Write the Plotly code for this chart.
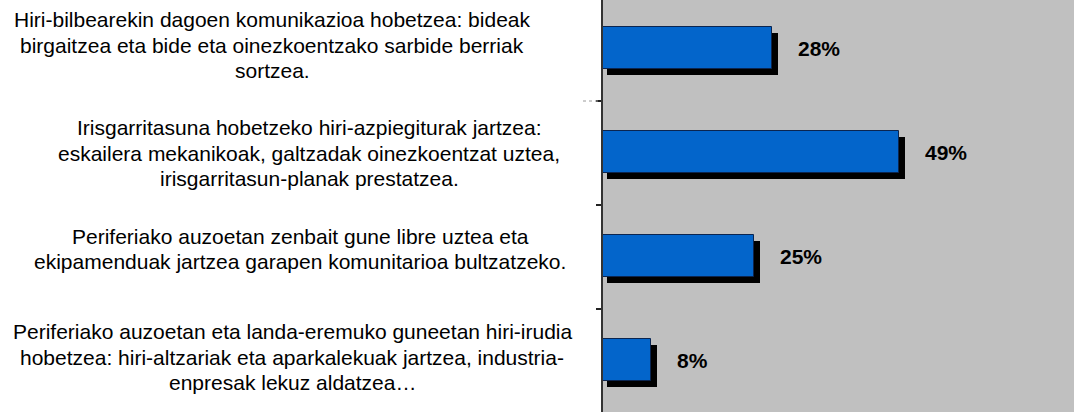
import plotly.graph_objects as go

categories = [
    ["Hiri-bilbearekin dagoen komunikazioa hobetzea: bideak",
     "birgaitzea eta bide eta oinezkoentzako sarbide berriak",
     "sortzea."],
    ["Irisgarritasuna hobetzeko hiri-azpiegiturak jartzea:",
     "eskailera mekanikoak, galtzadak oinezkoentzat uztea,",
     "irisgarritasun-planak prestatzea."],
    ["Periferiako auzoetan zenbait gune libre uztea eta",
     "ekipamenduak jartzea garapen komunitarioa bultzatzeko."],
    ["Periferiako auzoetan eta landa-eremuko guneetan hiri-irudia",
     "hobetzea: hiri-altzariak eta aparkalekuak jartzea, industria-",
     "enpresak lekuz aldatzea…"],
]
values = [28, 49, 25, 8]
value_labels = [f"{v}%" for v in values]

W, H = 1074, 412
L = 603
PW = W - L
XMAX = 78.0
px_per_unit_x = PW / XMAX
pos = list(range(len(categories)))

slot = 104.0
y_top = 3 / slot - 0.5
y_bot = (H + 3) / slot - 0.5

bar_w = 41.3 / slot
main_off = -1 / slot - bar_w / 2
sh_dx = 6 / px_per_unit_x
sh_base = 4 / px_per_unit_x
sh_dy = 6 / slot

fig = go.Figure()
fig.add_trace(go.Bar(
    y=pos, x=[v + sh_dx - sh_base for v in values], base=sh_base,
    orientation="h", width=bar_w, offset=main_off + sh_dy,
    marker=dict(color="black", line=dict(width=0)),
    hoverinfo="skip", showlegend=False,
))
fig.add_trace(go.Bar(
    y=pos, x=values, orientation="h", width=bar_w, offset=main_off,
    marker=dict(color="#0365CB", line=dict(color="#0B2550", width=1)),
    showlegend=False,
))

font_family = "Liberation Sans, Arial, sans-serif"

for p, v, t in zip(pos, values, value_labels):
    fig.add_annotation(x=v, y=p, text=f"<b>{t}</b>", showarrow=False,
                       xanchor="left", yanchor="middle", xshift=24, yshift=1,
                       font=dict(family=font_family, size=21, color="black"))

label_cx = [272, 309, 300, 292]
label_dy = [4, 0, 8, 4]
LINE = 25.8
for p, lines, cx, dy in zip(pos, categories, label_cx, label_dy):
    n = len(lines)
    for k, line in enumerate(lines):
        off = ((n - 1) / 2 - k) * LINE
        fig.add_annotation(x=(cx - L) / PW, xref="paper", y=p, yref="y",
                           text=line, showarrow=False, xanchor="center",
                           yanchor="middle", align="center", yshift=dy + off,
                           font=dict(family=font_family, size=21, color="black"))

fig.add_shape(type="line", xref="paper", yref="y",
              x0=(583 - L) / PW, x1=(598 - L) / PW, y0=0.5, y1=0.5,
              line=dict(color="#9a9a9a", width=1, dash="dot"))

fig.update_layout(
    width=W, height=H,
    margin=dict(l=L, r=0, t=0, b=0),
    paper_bgcolor="white",
    plot_bgcolor="#C0C0C0",
    barmode="overlay",
    bargap=0,
    xaxis=dict(range=[0, XMAX], showgrid=False, zeroline=False,
               showticklabels=False, ticks="", showline=False, fixedrange=True),
    yaxis=dict(range=[y_bot, y_top], showgrid=False, zeroline=False,
               showticklabels=False, tickvals=[0.5, 1.5, 2.5], ticks="outside",
               ticklen=5, tickwidth=1.5, tickcolor="#222",
               showline=True, linecolor="#333", linewidth=1.5, fixedrange=True),
)

fig.write_html("out.html", config={"displayModeBar": False},
               post_script="document.body.style.margin='0px';document.body.style.overflow='hidden';")
